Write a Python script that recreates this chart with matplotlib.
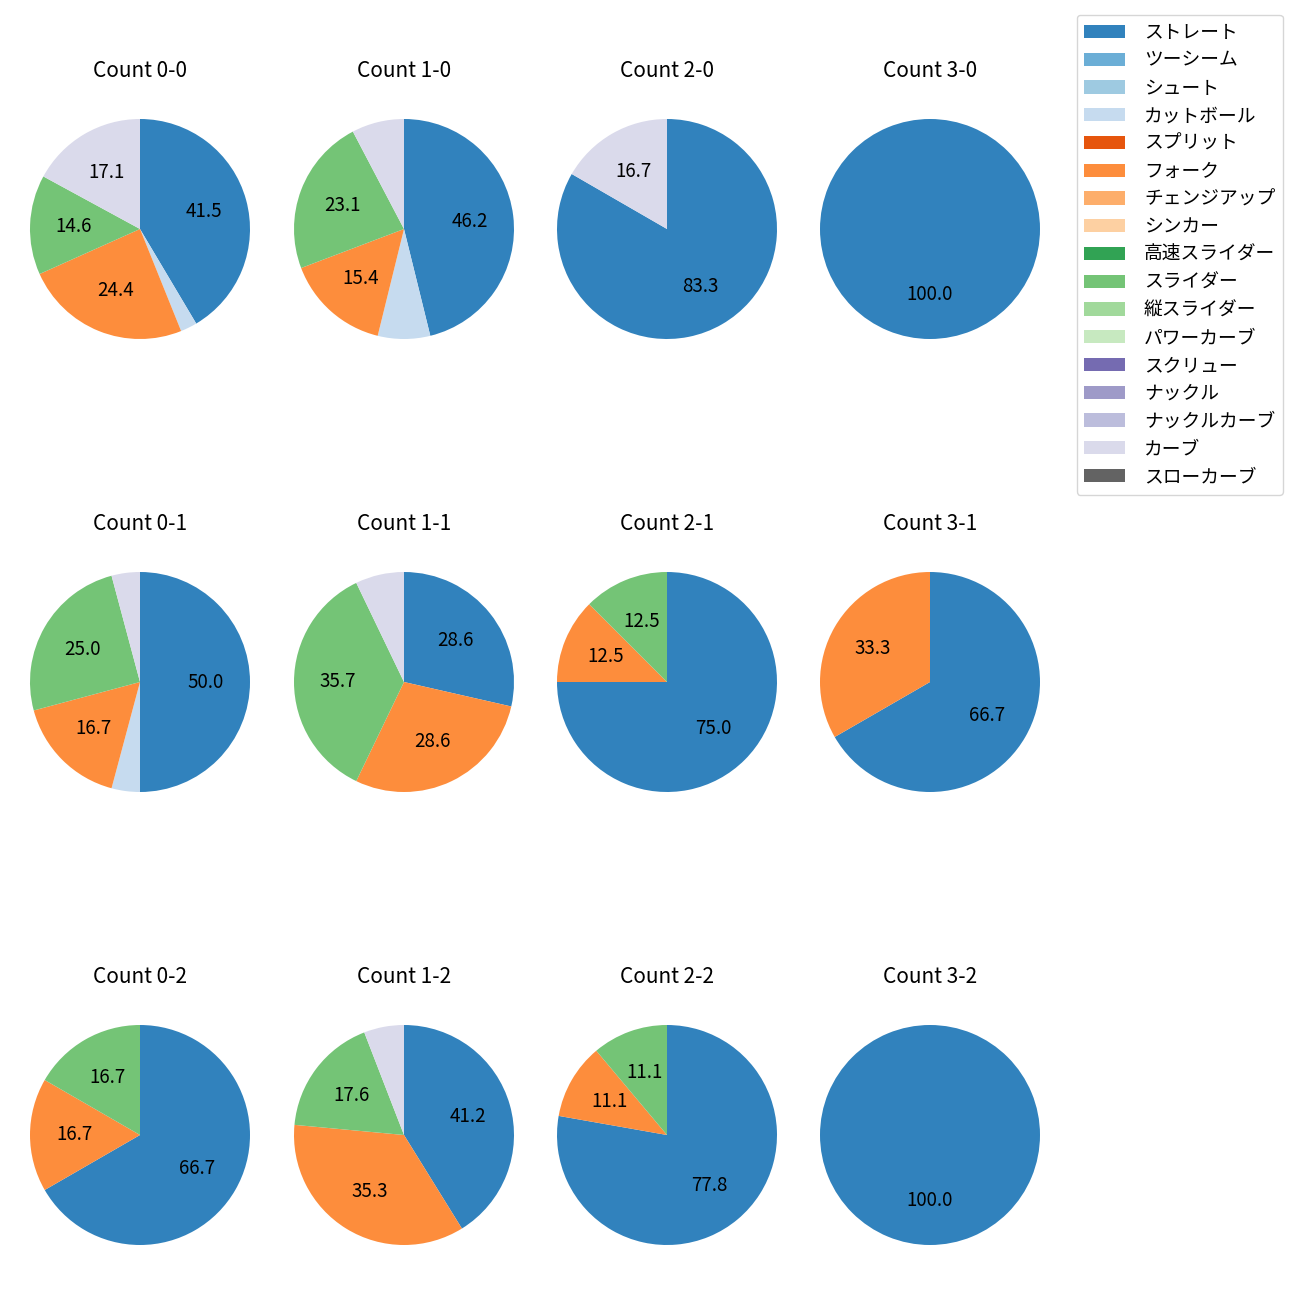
import matplotlib
matplotlib.use("Agg")
import matplotlib.pyplot as plt
from matplotlib.patches import Patch

plt.rcParams["font.family"] = ["Noto Sans CJK JP", "DejaVu Sans"]
plt.rcParams["font.size"] = 12

# --- Data ---
pitch_types = ["ストレート", "ツーシーム", "シュート", "カットボール", "スプリット",
               "フォーク", "チェンジアップ", "シンカー", "高速スライダー", "スライダー",
               "縦スライダー", "パワーカーブ", "スクリュー", "ナックル", "ナックルカーブ",
               "カーブ", "スローカーブ"]
pitch_colors = ["#3182bd", "#6baed6", "#9ecae1", "#c6dbef", "#e6550d",
                "#fd8d3c", "#fdae6b", "#fdd0a2", "#31a354", "#74c476",
                "#a1d99b", "#c7e9c0", "#756bb1", "#9e9ac8", "#bcbddc",
                "#dadaeb", "#636363"]

counts = ["0-0", "1-0", "2-0", "3-0",
          "0-1", "1-1", "2-1", "3-1",
          "0-2", "1-2", "2-2", "3-2"]

# pitch counts per ball-strike count (type -> number of pitches)
pitches = {
    "0-0": {"ストレート": 17, "カットボール": 1, "フォーク": 10, "スライダー": 6, "カーブ": 7},
    "1-0": {"ストレート": 6, "カットボール": 1, "フォーク": 2, "スライダー": 3, "カーブ": 1},
    "2-0": {"ストレート": 5, "カーブ": 1},
    "3-0": {"ストレート": 1},
    "0-1": {"ストレート": 12, "カットボール": 1, "フォーク": 4, "スライダー": 6, "カーブ": 1},
    "1-1": {"ストレート": 4, "フォーク": 4, "スライダー": 5, "カーブ": 1},
    "2-1": {"ストレート": 6, "フォーク": 1, "スライダー": 1},
    "3-1": {"ストレート": 2, "フォーク": 1},
    "0-2": {"ストレート": 4, "フォーク": 1, "スライダー": 1},
    "1-2": {"ストレート": 7, "フォーク": 6, "スライダー": 3, "カーブ": 1},
    "2-2": {"ストレート": 7, "フォーク": 1, "スライダー": 1},
    "3-2": {"ストレート": 1},
}

# --- Plot ---
W = H = 1300
fig = plt.figure(figsize=(13, 13), dpi=100)

col_x = [140, 404, 667, 930]
row_y = [229, 682, 1135]
side = 275

color_map = dict(zip(pitch_types, pitch_colors))

for i, c in enumerate(counts):
    r, k = divmod(i, 4)
    cx, cy = col_x[k], row_y[r]
    ax = fig.add_axes([(cx - side / 2) / W, 1 - (cy + side / 2) / H, side / W, side / H])
    d = pitches[c]
    labels = [p for p in pitch_types if p in d]
    vals = [d[p] for p in labels]
    ax.pie(vals, colors=[color_map[p] for p in labels], startangle=90,
           counterclock=False,
           autopct=lambda v: f"{v:.1f}" if v >= 10 else "",
           textprops={"fontsize": 13.5})
    ax.set_title(f"Count {c}", fontsize=15, pad=10.5)

handles = [Patch(facecolor=col, label=p) for p, col in zip(pitch_types, pitch_colors)]
fig.legend(handles=handles, loc="upper right", bbox_to_anchor=(0.994, 0.996),
           fontsize=13.5, labelspacing=0.36, handlelength=2.2, handletextpad=1.0)

fig.savefig("out.png", dpi=100)
